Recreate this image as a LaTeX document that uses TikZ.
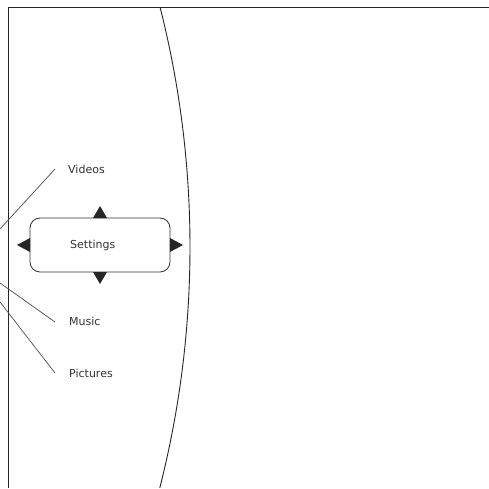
\documentclass[tikz,border=0pt]{standalone}
\usepackage{fontspec}
\setmainfont{DejaVu Sans}
\begin{document}
\begin{tikzpicture}[x=1pt,y=1pt,
  lbl/.style={anchor=west,inner sep=0pt,font=\fontsize{11}{13}\selectfont,text=black!80},
  frame/.style={draw=black!85,line width=0.9pt},
  thin/.style={draw=black!70,line width=0.7pt},
  tri/.style={fill=black!85,draw=none}]
\useasboundingbox (0,0) rectangle (489,488);
% frame
\coordinate (tl) at (8,481);
\coordinate (tr) at (489,481);
\coordinate (bl) at (8,0);
\draw[frame] (tr) -- (tl) -- (bl);
% arc
\draw[frame] (160,481) arc[start angle=14.25, end angle=-14.3, radius=975];
% box
\node[draw=black!80,line width=0.8pt,rounded corners=10pt,minimum width=140pt,minimum height=54pt,inner sep=0pt] (box) at (100,243) {};
\node[lbl] (set) at (70,243) {Settings};
% arrows
\fill[tri] (93,270) -- (100,282) -- (107,270) -- cycle;
\fill[tri] (93,216) -- (100,204) -- (107,216) -- cycle;
\fill[tri] (30,236) -- (17,243) -- (30,250) -- cycle;
\fill[tri] (170,236) -- (183,243) -- (170,250) -- cycle;
% labels
\node[lbl] (vid) at (68,319) {Videos};
\node[lbl] (mus) at (69,167) {Music};
\node[lbl] (pic) at (69,115) {Pictures};
% connector lines
\coordinate (v0) at (0,259);
\coordinate (m0) at (0,205);
\coordinate (p0) at (0,186);
\draw[thin] (v0) -- ([xshift=-13pt,yshift=0pt]vid.west);
\draw[thin] (m0) -- ([xshift=-14pt,yshift=-1pt]mus.west);
\draw[thin] (p0) -- ([xshift=-14pt]pic.west);
\end{tikzpicture}
\end{document}
